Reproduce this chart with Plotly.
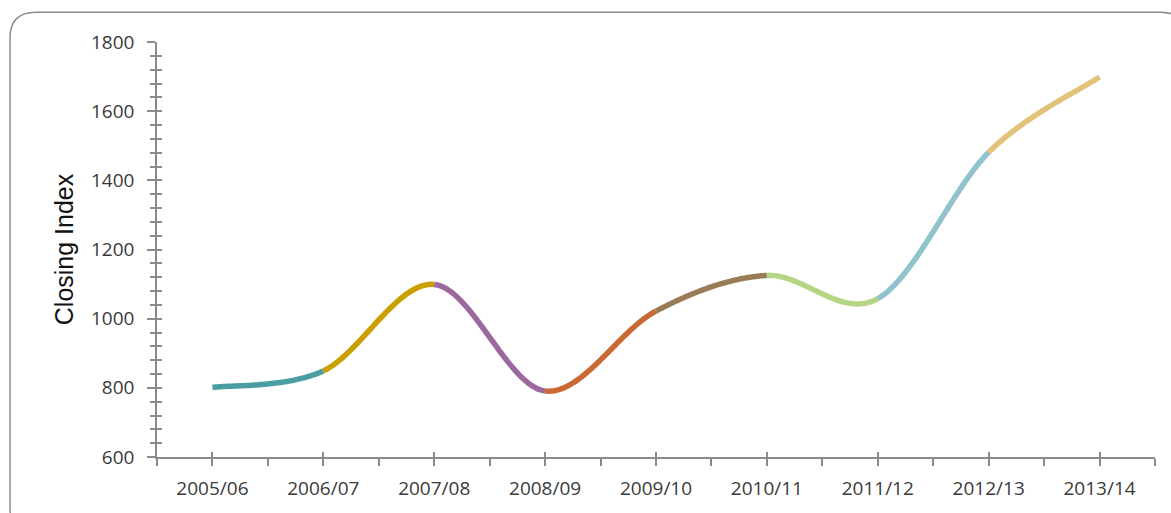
import plotly.graph_objects as go

categories = ["2005/06", "2006/07", "2007/08", "2008/09", "2009/10",
              "2010/11", "2011/12", "2012/13", "2013/14"]
closing_index = [801, 849, 1099, 791, 1022, 1125, 1058, 1481, 1699]
segment_colors = ["#4a9ea2", "#c9a000", "#9b68a0", "#c96a35", "#987c56",
                  "#b5d585", "#90c3cb", "#e3c27a"]
y_ticks = [600, 800, 1000, 1200, 1400, 1600, 1800]

W, H = 1171, 513
ML, MR, MT, MB = 157, 16, 42, 54
PW, PH = W - ML - MR, H - MT - MB
AXC = "#8a8a8a"


def bezier_segment(i, n=60):
    """Smoothed (Catmull-Rom style) curve between point i and i+1."""
    xs = list(range(len(closing_index)))
    ys = closing_index
    last = len(ys) - 1
    p0 = (xs[max(i - 1, 0)], ys[max(i - 1, 0)])
    p1 = (xs[i], ys[i])
    p2 = (xs[i + 1], ys[i + 1])
    p3 = (xs[min(i + 2, last)], ys[min(i + 2, last)])
    c1 = (p1[0] + (p2[0] - p0[0]) / 6, p1[1] + (p2[1] - p0[1]) / 6)
    c2 = (p2[0] - (p3[0] - p1[0]) / 6, p2[1] - (p3[1] - p1[1]) / 6)
    bx, by = [], []
    for k in range(n + 1):
        t = k / n
        a, b, c, d = (1 - t) ** 3, 3 * (1 - t) ** 2 * t, 3 * (1 - t) * t ** 2, t ** 3
        bx.append(a * p1[0] + b * c1[0] + c * c2[0] + d * p2[0])
        by.append(a * p1[1] + b * c1[1] + c * c2[1] + d * p2[1])
    return bx, by


fig = go.Figure()
for i in range(len(closing_index) - 1):
    bx, by = bezier_segment(i)
    fig.add_trace(go.Scatter(x=bx, y=by, mode="lines",
                             line=dict(color=segment_colors[i], width=5.5,
                                       simplify=False),
                             hoverinfo="skip", showlegend=False))


def px(x):
    return (x - ML) / PW


def py(y):
    return (H - MB - y) / PH


# rounded frame (partly outside the view)
x0, y0, x1, y1, r = 10, 12, 1186, 536, 26
path = (f"M {px(x0)},{py(y0 + r)} Q {px(x0)},{py(y0)} {px(x0 + r)},{py(y0)} "
        f"L {px(x1 - r)},{py(y0)} Q {px(x1)},{py(y0)} {px(x1)},{py(y0 + r)} "
        f"L {px(x1)},{py(y1 - r)} Q {px(x1)},{py(y1)} {px(x1 - r)},{py(y1)} "
        f"L {px(x0 + r)},{py(y1)} Q {px(x0)},{py(y1)} {px(x0)},{py(y1 - r)} Z")
fig.add_shape(type="path", path=path, xref="paper", yref="paper",
              line=dict(color="#8c8c8c", width=1.5), layer="below")

tickfont = dict(family="Open Sans", size=19, color="#3a3a3a")
xr = [-0.5, len(categories) - 0.5]
yr = [y_ticks[0], y_ticks[-1]]

fig.update_layout(
    width=W, height=H,
    margin=dict(l=ML, r=MR, t=MT, b=MB),
    paper_bgcolor="white", plot_bgcolor="white",
    xaxis=dict(range=xr, tickmode="array", tickvals=list(range(len(categories))),
               ticktext=categories, ticks="outside", ticklen=7, tickwidth=1.5,
               tickcolor=AXC, showline=True, linecolor=AXC, linewidth=1.5,
               showgrid=False, zeroline=False, tickfont=tickfont,
               ticklabelstandoff=6,
               minor=dict(ticks="outside", tick0=-0.5, dtick=1, ticklen=7,
                          tickwidth=1.5, tickcolor=AXC)),
    xaxis2=dict(range=xr, overlaying="x", anchor="y", side="bottom",
                tickmode="array",
                tickvals=list(range(len(categories))) + [len(categories) - 0.5],
                ticks="inside", ticklen=5, tickwidth=1.5, tickcolor=AXC,
                showticklabels=False, showline=False, showgrid=False,
                zeroline=False),
    yaxis=dict(range=yr, tickmode="array", tickvals=y_ticks, ticks="outside",
               ticklen=8, tickwidth=1.5, tickcolor=AXC, showline=True,
               linecolor=AXC, linewidth=1.5, showgrid=False, zeroline=False,
               tickfont=tickfont, ticklabelstandoff=9,
               title=dict(text="Closing Index", standoff=10,
                          font=dict(family="Liberation Sans", size=25, color="#111")),
               minor=dict(ticks="outside", tick0=600, dtick=40, ticklen=5,
                          tickwidth=1.5, tickcolor=AXC)),
    yaxis2=dict(range=yr, overlaying="y", anchor="x", side="left",
                tickmode="linear", tick0=600, dtick=40, ticks="inside",
                ticklen=5, tickwidth=1.5, tickcolor=AXC, showticklabels=False,
                showline=False, showgrid=False, zeroline=False),
)
# invisible traces to activate the overlay axes
fig.add_trace(go.Scatter(x=[None], y=[None], xaxis="x2", yaxis="y2",
                         showlegend=False, hoverinfo="skip"))

fig.write_html("out.html")
